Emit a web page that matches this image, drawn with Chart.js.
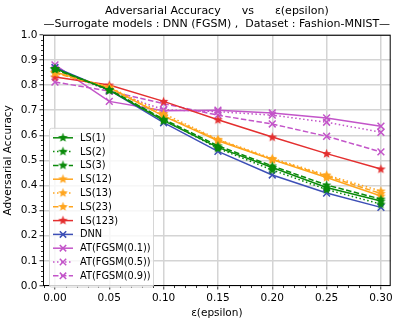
<!DOCTYPE html>
<html lang="en">
<head>
    <meta charset="UTF-8">
    <title>Adversarial Accuracy vs epsilon</title>
    <script src="https://cdn.jsdelivr.net/npm/chart.js@4.4.0/dist/chart.umd.min.js"></script>
    <style>
        html, body {
            margin: 0;
            padding: 0;
            background: #fff;
        }
        #wrap {
            width: 397px;
            height: 322px;
        }
    </style>
</head>
<body>
    <div id="wrap"><canvas id="accChart"></canvas></div>

    <script>
        // values
        const epsilons = [0.00, 0.05, 0.10, 0.15, 0.20, 0.25, 0.30];
        const xTicks = [0.00, 0.05, 0.10, 0.15, 0.20, 0.25, 0.30];
        const yTicks = [0.0, 0.1, 0.2, 0.3, 0.4, 0.5, 0.6, 0.7, 0.8, 0.9, 1.0];

        const ls1   = [0.866, 0.780, 0.658, 0.552, 0.472, 0.392, 0.338];
        const ls2   = [0.866, 0.780, 0.662, 0.548, 0.462, 0.384, 0.326];
        const ls3   = [0.862, 0.782, 0.664, 0.558, 0.478, 0.402, 0.346];
        const ls12  = [0.852, 0.790, 0.676, 0.578, 0.503, 0.432, 0.358];
        const ls13  = [0.850, 0.792, 0.686, 0.584, 0.508, 0.442, 0.378];
        const ls23  = [0.848, 0.788, 0.678, 0.582, 0.504, 0.438, 0.368];
        const ls123 = [0.832, 0.800, 0.735, 0.662, 0.593, 0.527, 0.466];
        const dnn   = [0.870, 0.780, 0.650, 0.536, 0.442, 0.370, 0.313];
        const at01  = [0.880, 0.735, 0.698, 0.700, 0.689, 0.669, 0.636];
        const at05  = [0.864, 0.776, 0.702, 0.694, 0.680, 0.652, 0.612];
        const at09  = [0.812, 0.776, 0.726, 0.680, 0.645, 0.596, 0.534];

        const GREEN = '#0a8a0a';
        const ORANGE = '#ffa51e';
        const RED = '#e42f2f';
        const BLUE = '#3d4fb6';
        const PURPLE = '#c355c9';

        const SOLID = [];
        const DOTTED = [1.5, 2.5];
        const DASHED = [5.5, 2.4];

        // filled five point star, like matplotlib's '*' marker
        function starMarker(color) {
            const c = document.createElement('canvas');
            c.width = 11;
            c.height = 11;
            const g = c.getContext('2d');
            g.beginPath();
            for (let i = 0; i < 10; i++) {
                const r = i % 2 === 0 ? 5 : 2.1;
                const a = -Math.PI / 2 + i * Math.PI / 5;
                const px = 5.5 + r * Math.cos(a);
                const py = 5.8 + r * Math.sin(a);
                if (i === 0) g.moveTo(px, py); else g.lineTo(px, py);
            }
            g.closePath();
            g.fillStyle = color;
            g.fill();
            return c;
        }

        function series(label, values, color, dash, marker) {
            return {
                label: label,
                data: epsilons.map((e, i) => ({ x: e, y: values[i] })),
                borderColor: color,
                backgroundColor: color,
                borderWidth: 1.5,
                borderDash: dash,
                pointStyle: marker === 'star' ? starMarker(color) : 'crossRot',
                pointRadius: marker === 'star' ? 4 : 4.8,
                pointBorderWidth: 1.5,
                pointHoverRadius: 4,
                tension: 0,
                fill: false
            };
        }

        const datasets = [
            series('LS(1)', ls1, GREEN, SOLID, 'star'),
            series('LS(2)', ls2, GREEN, DOTTED, 'star'),
            series('LS(3)', ls3, GREEN, DASHED, 'star'),
            series('LS(12)', ls12, ORANGE, SOLID, 'star'),
            series('LS(13)', ls13, ORANGE, DOTTED, 'star'),
            series('LS(23)', ls23, ORANGE, DASHED, 'star'),
            series('LS(123)', ls123, RED, SOLID, 'star'),
            series('DNN', dnn, BLUE, SOLID, 'x'),
            series('AT(FGSM(0.1))', at01, PURPLE, SOLID, 'x'),
            series('AT(FGSM(0.5))', at05, PURPLE, DOTTED, 'x'),
            series('AT(FGSM(0.9))', at09, PURPLE, DASHED, 'x')
        ];

        const FONT = "'DejaVu Sans', sans-serif";

        // frame, minor ticks and the in-axes legend
        const decorations = {
            id: 'decorations',
            afterDraw(chart) {
                const ctx = chart.ctx;
                const a = chart.chartArea;
                const xs = chart.scales.x;
                const ys = chart.scales.y;
                ctx.save();

                // minor ticks
                ctx.strokeStyle = '#000';
                ctx.lineWidth = 0.8;
                ctx.beginPath();
                for (let i = -1; i <= 31; i++) {
                    const v = i / 100;
                    if (i % 5 === 0) continue;
                    const px = Math.round(xs.getPixelForValue(v)) + 0.5;
                    if (px < a.left || px > a.right) continue;
                    ctx.moveTo(px, a.bottom);
                    ctx.lineTo(px, a.bottom + 2);
                }
                for (let i = 0; i <= 50; i++) {
                    if (i % 5 === 0) continue;
                    const py = Math.round(ys.getPixelForValue(i / 50)) + 0.5;
                    ctx.moveTo(a.left, py);
                    ctx.lineTo(a.left - 2, py);
                }
                ctx.stroke();

                // frame
                ctx.lineWidth = 1;
                ctx.strokeRect(a.left + 0.5, a.top + 0.5, a.right - a.left - 1, a.bottom - a.top - 1);

                // legend box
                const bx = a.left + 6, bw = 104;
                const rowH = 13.8;
                const by = a.top + 93, bh = datasets.length * rowH + 7;
                ctx.fillStyle = 'rgba(255,255,255,0.8)';
                ctx.strokeStyle = '#d6d6d6';
                ctx.lineWidth = 1;
                ctx.beginPath();
                ctx.roundRect(bx + 0.5, by + 0.5, bw, bh, 2);
                ctx.fill();
                ctx.stroke();

                ctx.font = '9.8px ' + FONT;
                ctx.textBaseline = 'middle';
                ctx.textAlign = 'left';
                chart.data.datasets.forEach((ds, i) => {
                    const cy = by + 10 + i * rowH;
                    const hx0 = bx + 4, hx1 = bx + 24;
                    ctx.strokeStyle = ds.borderColor;
                    ctx.lineWidth = 1.5;
                    ctx.setLineDash(ds.borderDash);
                    ctx.beginPath();
                    ctx.moveTo(hx0, cy);
                    ctx.lineTo(hx1, cy);
                    ctx.stroke();
                    ctx.setLineDash([]);
                    const mx = (hx0 + hx1) / 2;
                    if (ds.pointStyle instanceof HTMLCanvasElement) {
                        ctx.drawImage(ds.pointStyle, mx - 5.5, cy - 5.8);
                    } else {
                        ctx.beginPath();
                        ctx.moveTo(mx - 3.2, cy - 3.2); ctx.lineTo(mx + 3.2, cy + 3.2);
                        ctx.moveTo(mx + 3.2, cy - 3.2); ctx.lineTo(mx - 3.2, cy + 3.2);
                        ctx.stroke();
                    }
                    ctx.fillStyle = '#000';
                    ctx.fillText(ds.label, bx + 31, cy + 0.5);
                });
                ctx.restore();
            }
        };

        new Chart(document.getElementById('accChart'), {
            type: 'line',
            data: { datasets: datasets },
            options: {
                responsive: true,
                maintainAspectRatio: false,
                animation: false,
                events: [],
                layout: { padding: { left: 0, right: 4, top: 0, bottom: 0 } },
                plugins: {
                    legend: { display: false },
                    tooltip: { enabled: false },
                    title: {
                        display: true,
                        fullSize: false,
                        text: ['Adversarial Accuracy      vs      \u03b5(epsilon)',
                               '\u2014Surrogate models : DNN (FGSM) ,  Dataset : Fashion-MNIST\u2014'],
                        color: '#000',
                        font: { family: FONT, size: 11, weight: 'normal', lineHeight: 1.15 },
                        padding: { top: 5, bottom: 4.5 }
                    }
                },
                scales: {
                    x: {
                        type: 'linear',
                        min: -0.011,
                        max: 0.309,
                        afterBuildTicks: s => { s.ticks = xTicks.map(v => ({ value: v })); },
                        afterFit: s => { s.height = 36; },
                        grid: { color: '#d4d4d4', lineWidth: 1.5, tickColor: '#000', tickLength: 3.5, tickWidth: 0.8 },
                        border: { display: false },
                        ticks: {
                            color: '#000',
                            padding: 2,
                            maxRotation: 0,
                            font: { family: FONT, size: 10.5 },
                            callback: v => Number(v).toFixed(2)
                        },
                        title: {
                            display: true,
                            text: '\u03b5(epsilon)',
                            color: '#000',
                            font: { family: FONT, size: 10.5 },
                            padding: { top: 1, bottom: 2 }
                        }
                    },
                    y: {
                        min: 0,
                        max: 1,
                        afterBuildTicks: s => { s.ticks = yTicks.map(v => ({ value: v })); },
                        afterFit: s => { s.width = 43; },
                        grid: { color: '#d4d4d4', lineWidth: 1.5, tickColor: '#000', tickLength: 3.5, tickWidth: 0.8 },
                        border: { display: false },
                        ticks: {
                            color: '#000',
                            padding: 2,
                            font: { family: FONT, size: 10.5 },
                            callback: v => Number(v).toFixed(1)
                        },
                        title: {
                            display: true,
                            text: 'Adversarial Accuracy',
                            color: '#000',
                            font: { family: FONT, size: 10.5 },
                            padding: { top: 2, bottom: 1 }
                        }
                    }
                }
            },
            plugins: [decorations]
        });
    </script>
</body>
</html>
